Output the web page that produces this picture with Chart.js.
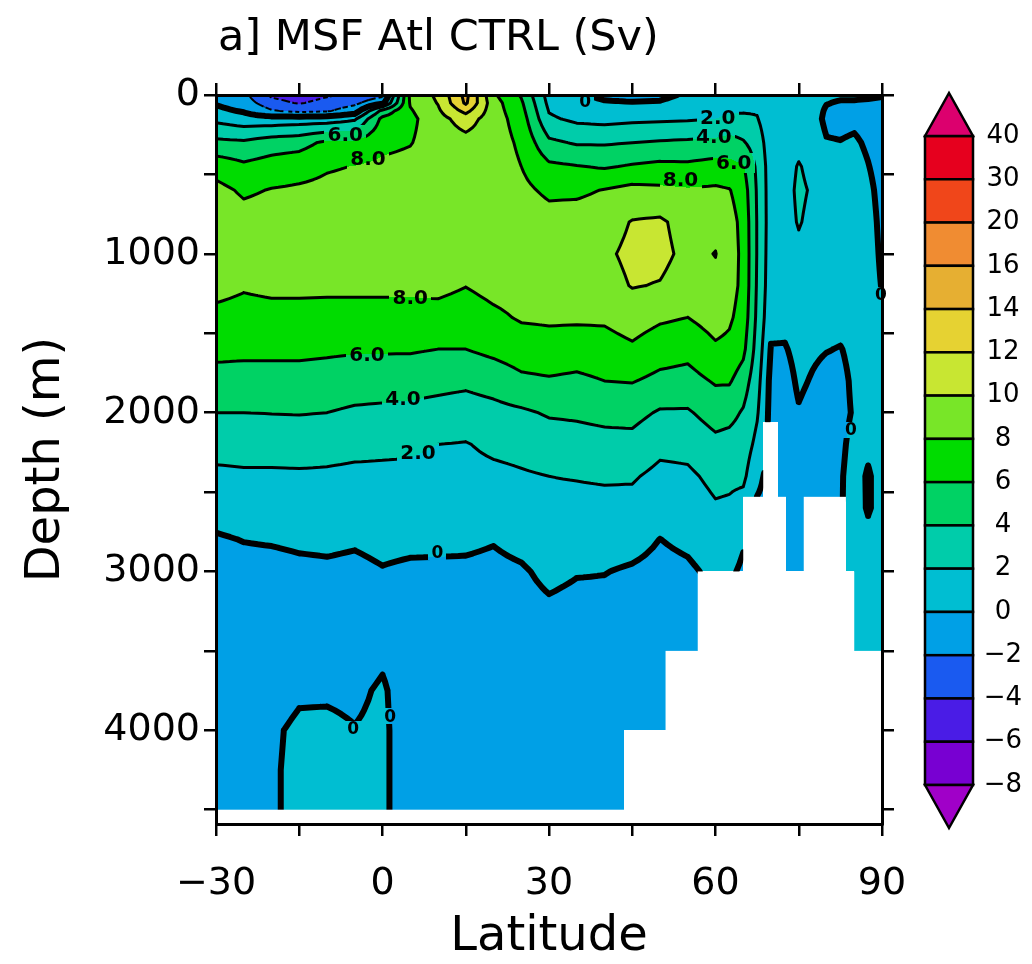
<!DOCTYPE html>
<html lang="en">
<head>
  <meta charset="UTF-8" />
  <title>MSF Atl CTRL</title>
  <script src="https://cdn.jsdelivr.net/npm/chart.js@4.4.1/dist/chart.umd.min.js"></script>
  <style>
    html, body { margin: 0; padding: 0; background: #fff; }
  </style>
</head>
<body>
  <canvas id="msfChart" width="1032" height="964"></canvas>
<script>
  // grid of the streamfunction
  const lats = [-30, -25, -20, -15, -10, -5, 0, 5, 10, 15, 20, 25, 30, 35, 40, 45, 50, 55, 60,
                62.5, 65, 67.5, 70, 72.5, 75, 77.5, 80, 82.5, 85, 87.5, 90];
  const depths = [0, 50, 100, 150, 300, 450, 600, 800, 1000, 1200, 1400, 1600, 1800, 2000, 2200, 2400,
                  2600, 2800, 3000, 3250, 3500, 3750, 4000, 4250, 4500];

  // MSF (Sv), one profile per latitude, values top to bottom at the depths above
  const msf = [
    [-0.6, -0.2, 0.5, 1.5, 4.5, 7.2, 8.6, 9.2, 9.2, 8.6, 7.5, 6.5, 5.3, 4.0, 2.7, 1.6, 0.7, -0.2, -0.6, -0.8, -0.9, -0.9, -0.9, -0.8, -0.6],   // -30
    [-1.5, -1.0, -0.2, 0.9, 4.3, 6.4, 7.7, 8.8, 9.3, 8.2, 7.3, 6.4, 5.3, 4.0, 2.8, 1.7, 0.9, 0.05, -0.6, -0.8, -0.9, -0.9, -0.9, -0.9, -0.8], // -25
    [-4.4, -3.2, -1.8, 0.8, 5.0, 6.9, 8.1, 8.9, 9.3, 8.4, 7.4, 6.4, 5.3, 4.05, 2.8, 1.7, 0.95, 0.15, -0.6, -0.8, -0.9, -0.6, -0.2, -0.15, -0.15], // -20
    [-5.2, -4.2, -2.5, 0.95, 5.3, 7.2, 8.3, 9.0, 9.3, 8.4, 7.4, 6.4, 5.3, 4.1, 2.8, 1.75, 1.0, 0.3, -0.4, -0.7, -0.8, -0.2, 0.25, 0.3, 0.3],  // -15
    [-4.3, -3.2, -2.2, 1.0, 6.4, 7.8, 8.5, 9.1, 9.3, 8.4, 7.3, 6.3, 5.2, 4.0, 2.7, 1.7, 1.0, 0.35, -0.3, -0.7, -0.8, -0.2, 0.3, 0.3, 0.35],   // -10
    [-3.4, -2.4, -1.0, 1.7, 6.4, 8.05, 8.7, 9.1, 9.3, 8.4, 7.3, 6.2, 5.0, 3.7, 2.5, 1.6, 0.9, 0.2, -0.4, -0.7, -0.8, -0.3, 0.05, 0.1, 0.1],   // -5
    [-2.5, -0.5, 4.6, 6.5, 7.5, 8.4, 8.8, 9.1, 9.3, 8.4, 7.3, 6.2, 4.9, 3.6, 2.4, 1.6, 1.0, 0.45, -0.1, -0.6, -0.3, 0.2, 0.3, 0.3, 0.3],      // 0
    [8.4, 8.2, 7.8, 7.5, 7.9, 8.6, 9.0, 9.2, 9.3, 8.4, 7.3, 6.2, 4.8, 3.5, 2.3, 1.6, 1.0, 0.4, -0.3, -0.7, -0.8, -0.9, -0.9, -0.9, -0.9],     // 5
    [10.4, 10.1, 9.7, 9.3, 9.0, 9.1, 9.2, 9.4, 9.4, 8.5, 7.3, 6.0, 4.6, 3.3, 2.0, 1.4, 0.9, 0.35, -0.3, -0.7, -0.8, -0.9, -0.9, -0.9, -0.9],  // 10
    [14.6, 14.3, 12.6, 10.9, 9.3, 9.2, 9.3, 9.5, 9.4, 8.05, 7.0, 6.0, 4.4, 3.1, 1.9, 1.4, 0.9, 0.3, -0.3, -0.7, -0.8, -0.9, -0.9, -0.9, -0.9], // 15
    [8.3, 8.8, 8.9, 9.0, 9.1, 9.2, 9.4, 9.5, 9.4, 8.6, 7.6, 6.5, 4.8, 3.4, 2.4, 1.55, 0.85, 0.1, -0.4, -0.7, -0.8, -0.9, -0.9, -0.9, -0.9],   // 20
    [5.8, 6.3, 6.65, 7.0, 7.6, 8.0, 8.5, 9.2, 9.5, 8.8, 8.2, 7.0, 5.6, 3.7, 2.6, 1.8, 1.1, 0.5, -0.2, -0.6, -0.8, -0.9, -0.9, -0.9, -0.9],    // 25
    [1.2, 1.5, 1.9, 2.3, 4.4, 6.4, 7.6, 8.8, 9.6, 9.0, 8.3, 7.2, 5.8, 4.2, 3.0, 2.0, 1.5, 0.95, 0.4, -0.3, -0.7, -0.8, -0.9, -0.9, -0.8],     // 30
    [0.3, 0.6, 1.1, 1.6, 3.8, 6.1, 7.6, 9.0, 9.5, 9.1, 8.3, 7.0, 5.6, 4.3, 3.2, 2.1, 1.45, 0.75, 0.1, -0.5, -0.7, -0.8, -0.9, -0.9, -0.8],    // 35
    [-0.4, 0.2, 0.8, 1.4, 3.8, 5.8, 8.1, 9.2, 9.7, 9.3, 8.3, 7.2, 6.0, 4.5, 3.4, 2.2, 1.5, 0.75, 0.05, -0.5, -0.7, -0.8, -0.9, -0.9, -0.8],   // 40
    [-0.6, 0.1, 0.85, 1.6, 4.0, 6.2, 8.6, 10.1, 10.4, 10.1, 8.9, 7.7, 6.1, 4.6, 3.4, 2.2, 1.4, 0.6, -0.2, -0.6, -0.8, -0.9, -0.9, -0.9, -0.8], // 45
    [-0.5, 0.2, 0.95, 1.7, 4.2, 6.5, 8.4, 10.3, 10.5, 9.9, 8.3, 6.9, 5.5, 3.8, 2.5, 1.5, 0.8, -0.02, -0.5, -0.7, -0.8, -0.9, -0.9, -0.9, -0.8], // 50
    [0.3, 0.9, 1.35, 1.8, 4.35, 6.4, 8.2, 9.2, 9.5, 9.1, 8.0, 6.6, 5.3, 3.8, 2.6, 1.65, 1.0, 0.35, -0.3, -0.6, -0.8, -0.9, -0.9, -0.9, -0.8],  // 55
    [0.4, 1.0, 1.5, 2.0, 4.5, 6.8, 8.3, 9.5, 10.05, 9.6, 8.8, 7.7, 6.2, 4.8, 3.5, 2.5, 1.8, 1.0, 0.4, 0.2, 0.0, -0.3, -0.5, -0.6, -0.6],     // 60
    [0.5, 1.2, 1.8, 2.4, 4.8, 6.6, 8.1, 8.8, 9.0, 8.8, 8.3, 7.5, 6.2, 4.6, 3.3, 2.4, 1.7, 1.0, 0.3, 0.1, 0.0, -0.3, -0.5, -0.6, -0.6],       // 62.5
    [0.8, 1.3, 1.85, 2.4, 4.2, 6.2, 7.0, 7.4, 7.5, 7.5, 7.2, 6.5, 5.0, 3.8, 3.0, 2.4, 1.2, 0.2, -0.3, -0.5, -0.6, -0.7, -0.7, -0.7, -0.7],   // 65
    [1.2, 1.6, 1.85, 2.1, 3.0, 3.6, 3.8, 3.9, 3.9, 3.8, 3.6, 3.2, 2.7, 2.2, 1.5, 0.5, -0.3, -0.5, -0.6, -0.6, -0.6, -0.6, -0.6, -0.6, -0.6], // 67.5
    [0.6, 0.6, 0.7, 0.8, 0.9, 1.0, 1.0, 1.0, 0.9, 0.8, 0.5, -0.1, -0.5, -0.6, -0.6, -0.6, -0.6, -0.6, -0.6, -0.6, -0.6, -0.6, -0.6, -0.6, -0.6], // 70
    [0.6, 0.6, 0.65, 0.7, 0.8, 0.9, 1.0, 1.0, 0.9, 0.7, 0.4, -0.1, -0.5, -0.6, -0.6, -0.6, -0.6, -0.6, -0.6, -0.6, -0.6, -0.6, -0.6, -0.6, -0.6], // 72.5
    [0.7, 0.7, 0.75, 0.8, 1.2, 2.2, 2.5, 2.2, 1.4, 0.8, 0.6, 0.4, 0.2, -0.1, -0.4, -0.5, -0.6, -0.6, -0.6, -0.6, -0.6, -0.6, -0.6, -0.6, -0.6], // 75
    [0.6, 0.5, 0.55, 0.6, 0.8, 1.2, 1.7, 1.3, 1.0, 0.8, 0.5, 0.2, -0.1, -0.4, -0.5, -0.6, -0.6, -0.6, -0.6, -0.6, -0.6, -0.6, -0.6, -0.6, -0.6], // 77.5
    [0.3, 0.05, -0.15, -0.3, 0.1, 0.5, 0.8, 0.9, 0.9, 0.8, 0.5, 0.05, -0.4, -0.5, -0.6, -0.6, -0.6, -0.6, -0.6, -0.6, -0.6, -0.6, -0.6, -0.6, -0.6], // 80
    [0.2, -0.1, -0.25, -0.4, 0.05, 0.5, 0.8, 0.9, 0.9, 0.8, 0.4, -0.05, -0.3, -0.3, -0.2, -0.1, -0.1, -0.1, -0.1, -0.1, -0.1, -0.1, -0.1, -0.1, -0.1], // 82.5
    [0.2, -0.1, -0.2, -0.3, 0.2, 0.5, 0.7, 0.8, 0.8, 0.7, 0.5, 0.3, 0.2, 0.1, 0.3, 0.4, 0.5, 0.5, 0.5, 0.4, 0.3, 0.3, 0.3, 0.3, 0.3],        // 85
    [0.2, -0.2, -0.35, -0.5, -0.2, 0.05, 0.3, 0.5, 0.6, 0.6, 0.5, 0.5, 0.4, 0.3, 0.2, -0.1, -0.1, 0.3, 0.5, 0.5, 0.4, 0.4, 0.4, 0.4, 0.4],   // 87.5
    [0.1, -0.3, -0.5, -0.7, -0.6, -0.5, -0.4, -0.3, -0.2, -0.05, 0.2, 0.4, 0.4, 0.4, 0.4, 0.4, 0.4, 0.4, 0.4, 0.4, 0.4, 0.4, 0.4, 0.4, 0.4]  // 90
  ];

  // ocean floor (m) starting at each latitude, land below is left white
  const floorLat = [-30, 43.6, 51, 56.8, 65, 68.6, 71.2, 72.7, 75.9, 83.5, 85];
  const floorDepth = [4500, 4000, 3500, 3000, 2530, 2060, 2530, 3000, 2530, 3000, 3500];

  const levels = [-8, -6, -4, -2, 0, 2, 4, 6, 8, 10, 12, 14, 16, 20, 30, 40];
  const fillColors = ['#A000C8', '#7800D2', '#4A1CE6', '#1A5AF0', '#00A0E6', '#00BED2', '#00CCAA',
                      '#00D264', '#00DC00', '#78E628', '#C8E632', '#E6D232', '#E6AF32', '#F08C32',
                      '#F0461A', '#E6001E', '#DC006E'];

  const latTicks = [-30, -15, 0, 15, 30, 45, 60, 75, 90];
  const depthTicks = [0, 500, 1000, 1500, 2000, 2500, 3000, 3500, 4000, 4500];

  // line labels
  const labelText = ['8.0', '6.0', '8.0', '6.0', '4.0', '2.0', '8.0', '6.0', '4.0', '2.0', '0', '0', '0', '0', '0', '0'];
  const labelLat = [-2.6, -6.7, 5, -2.8, 3.7, 6.4, 53.7, 63.3, 59.7, 60.4, 9.9, 36.5, 89.8, 84.4, 1.4, -5.3];
  const labelDepth = [400, 250, 1280, 1635, 1915, 2255, 535, 430, 265, 145, 2880, 40, 1258, 2107, 3912, 3990];

  const titleText = 'a] MSF Atl CTRL (Sv)';

  function minus(v) {
    return v < 0 ? '\u2212' + (-v) : String(v);
  }

  function bracket(arr, v) {
    let i = 0;
    while (i < arr.length - 2 && v > arr[i + 1]) i++;
    return i;
  }
  function frac(arr, i, v) {
    const t = (v - arr[i]) / (arr[i + 1] - arr[i]);
    return t < 0 ? 0 : (t > 1 ? 1 : t);
  }
  function msfAt(lat, dep) {
    const i = bracket(lats, lat), j = bracket(depths, dep);
    const tx = frac(lats, i, lat), ty = frac(depths, j, dep);
    return msf[i][j] * (1 - tx) * (1 - ty) + msf[i + 1][j] * tx * (1 - ty) +
           msf[i + 1][j + 1] * tx * ty + msf[i][j + 1] * (1 - tx) * ty;
  }
  function floorAt(lat) {
    let k = 0;
    for (let m = 0; m < floorLat.length; m++) if (lat >= floorLat[m]) k = m;
    return floorDepth[k];
  }
  function levelIndex(v) {
    let k = 0;
    while (k < levels.length && v >= levels[k]) k++;
    return k;
  }
  function hexRgb(h) {
    return [parseInt(h.slice(1, 3), 16), parseInt(h.slice(3, 5), 16), parseInt(h.slice(5, 7), 16)];
  }

  const contourPlugin = {
    id: 'contour',
    beforeDatasetsDraw(chart) {
      const ctx = chart.ctx;
      const a = chart.chartArea;
      const xs = chart.scales.x, ys = chart.scales.y;
      const L = Math.round(a.left), T = Math.round(a.top);
      const W = Math.round(a.right) - L, H = Math.round(a.bottom) - T;
      const maxDep = depths[depths.length - 1];

      // filled bands
      const img = ctx.createImageData(W, H);
      const rgb = fillColors.map(hexRgb);
      for (let px = 0; px < W; px++) {
        const lat = xs.getValueForPixel(L + px + 0.5);
        const fl = Math.min(floorAt(lat), maxDep);
        for (let py = 0; py < H; py++) {
          const dep = ys.getValueForPixel(T + py + 0.5);
          const o = (py * W + px) * 4;
          const c = dep <= fl ? rgb[levelIndex(msfAt(lat, dep))] : [255, 255, 255];
          img.data[o] = c[0];
          img.data[o + 1] = c[1];
          img.data[o + 2] = c[2];
          img.data[o + 3] = 255;
        }
      }
      ctx.putImageData(img, L, T);

      // contour lines, marching squares on a refined copy of the grid
      const sub = 4;
      const rl = [], rd = [];
      for (let i = 0; i < lats.length - 1; i++)
        for (let s = 0; s < sub; s++) rl.push(lats[i] + (lats[i + 1] - lats[i]) * s / sub);
      rl.push(lats[lats.length - 1]);
      for (let j = 0; j < depths.length - 1; j++)
        for (let s = 0; s < sub; s++) rd.push(depths[j] + (depths[j + 1] - depths[j]) * s / sub);
      rd.push(depths[depths.length - 1]);
      const rv = rl.map(la => rd.map(de => msfAt(la, de)));
      const X = rl.map(la => xs.getPixelForValue(la));
      const Y = rd.map(de => ys.getPixelForValue(de));

      ctx.save();
      ctx.beginPath();
      ctx.rect(a.left, a.top, a.right - a.left, a.bottom - a.top);
      ctx.clip();
      ctx.strokeStyle = '#000';
      ctx.lineJoin = 'round';
      levels.forEach(lev => {
        ctx.beginPath();
        for (let i = 0; i < rl.length - 1; i++) {
          const fl = floorAt((rl[i] + rl[i + 1]) / 2);
          for (let j = 0; j < rd.length - 1; j++) {
            if ((rd[j] + rd[j + 1]) / 2 > fl) continue;
            const P = [[X[i], Y[j]], [X[i + 1], Y[j]], [X[i + 1], Y[j + 1]], [X[i], Y[j + 1]]];
            const V = [rv[i][j], rv[i + 1][j], rv[i + 1][j + 1], rv[i][j + 1]];
            const e = [];
            let n = 0;
            for (let k = 0; k < 4; k++) {
              const f = (k + 1) % 4;
              if ((V[k] >= lev) !== (V[f] >= lev)) {
                const t = (lev - V[k]) / (V[f] - V[k]);
                e.push([P[k][0] + (P[f][0] - P[k][0]) * t, P[k][1] + (P[f][1] - P[k][1]) * t]);
                n++;
              } else {
                e.push(null);
              }
            }
            let segs = [];
            if (n === 2) {
              segs = [e.filter(Boolean)];
            } else if (n === 4) {
              const centre = (V[0] + V[1] + V[2] + V[3]) / 4;
              segs = ((centre >= lev) === (V[0] >= lev)) ? [[e[0], e[1]], [e[2], e[3]]] : [[e[3], e[0]], [e[1], e[2]]];
            }
            segs.forEach(s => {
              ctx.moveTo(s[0][0], s[0][1]);
              ctx.lineTo(s[1][0], s[1][1]);
            });
          }
        }
        // negative values dashed, zero line heavy
        ctx.lineCap = lev < 0 ? 'butt' : 'round';
        ctx.setLineDash(lev < 0 ? [4, 3] : []);
        ctx.lineWidth = lev === 0 ? 6 : (lev < 0 ? 2 : 3);
        ctx.stroke();
      });
      ctx.setLineDash([]);

      // land below the ocean floor
      ctx.fillStyle = '#fff';
      const yBottom = ys.getPixelForValue(ys.max);
      for (let m = 0; m < floorLat.length; m++) {
        const x0 = xs.getPixelForValue(floorLat[m]);
        const x1 = xs.getPixelForValue(m + 1 < floorLat.length ? floorLat[m + 1] : xs.max);
        const y0 = ys.getPixelForValue(Math.min(floorDepth[m], maxDep));
        ctx.fillRect(x0, y0, x1 - x0, yBottom - y0);
      }
      ctx.restore();

      // line labels, cut into the lines
      ctx.save();
      ctx.textAlign = 'center';
      ctx.textBaseline = 'middle';
      ctx.fillStyle = '#000';
      labelText.forEach((txt, k) => {
        const zero = txt === '0';
        ctx.font = zero ? 'bold 17px "DejaVu Sans"' : 'bold 20px "DejaVu Sans"';
        const px = xs.getPixelForValue(labelLat[k]);
        const py = ys.getPixelForValue(labelDepth[k]);
        const w = Math.ceil(ctx.measureText(txt).width) + 6;
        const h = zero ? 16 : 20;
        const dx = Math.max(0, Math.round(px - w / 2) - L);
        const dy = Math.max(0, Math.round(py - h / 2) - T);
        const dw = Math.min(w, W - dx);
        ctx.putImageData(img, L, T, dx, dy, dw, h);
        ctx.fillText(txt, px, py + 1);
      });
      ctx.restore();
    }
  };

  const decorPlugin = {
    id: 'decor',
    afterDraw(chart) {
      const ctx = chart.ctx;
      ctx.save();
      ctx.fillStyle = '#000';
      ctx.font = '43px "DejaVu Sans"';
      ctx.textAlign = 'left';
      ctx.textBaseline = 'alphabetic';
      ctx.fillText(titleText, 218, 50);

      // colour bar
      const bx = 925, bw = 48, top = 136, bottom = 785, tri = 43;
      const nb = levels.length - 1;
      const bh = (bottom - top) / nb;
      ctx.lineWidth = 2.5;
      ctx.strokeStyle = '#000';
      for (let k = 0; k < nb; k++) {
        ctx.fillStyle = fillColors[nb - k];
        ctx.fillRect(bx, top + k * bh, bw, bh);
        ctx.strokeRect(bx, top + k * bh, bw, bh);
      }
      ctx.beginPath();
      ctx.moveTo(bx, top);
      ctx.lineTo(bx + bw / 2, top - tri);
      ctx.lineTo(bx + bw, top);
      ctx.closePath();
      ctx.fillStyle = fillColors[fillColors.length - 1];
      ctx.fill();
      ctx.stroke();
      ctx.beginPath();
      ctx.moveTo(bx, bottom);
      ctx.lineTo(bx + bw / 2, bottom + tri);
      ctx.lineTo(bx + bw, bottom);
      ctx.closePath();
      ctx.fillStyle = fillColors[0];
      ctx.fill();
      ctx.stroke();

      ctx.fillStyle = '#000';
      ctx.font = '26px "DejaVu Sans"';
      ctx.textAlign = 'center';
      ctx.textBaseline = 'middle';
      for (let k = 0; k <= nb; k++) {
        ctx.fillText(minus(levels[nb - k]), 1003, top + k * bh);
      }
      ctx.restore();
    }
  };

  const tickFont = { family: 'DejaVu Sans', size: 38 };
  const axisGrid = { drawOnChartArea: false, color: '#000', lineWidth: 2.5, tickLength: 12 };
  const axisBorder = { color: '#000', width: 3, z: 1 };
  const setLatTicks = s => { s.ticks = latTicks.map(v => ({ value: v })); };
  const setDepthTicks = s => { s.ticks = depthTicks.map(v => ({ value: v })); };

  new Chart(document.getElementById('msfChart'), {
    type: 'scatter',
    data: { datasets: [] },
    options: {
      responsive: false,
      animation: false,
      devicePixelRatio: 1,
      layout: { padding: { left: 0, right: 138, top: 0, bottom: 0 } },
      plugins: { legend: { display: false }, tooltip: { enabled: false } },
      scales: {
        x: {
          type: 'linear', position: 'bottom', min: -30, max: 90,
          ticks: {
            autoSkip: false, maxRotation: 0, padding: 25, color: '#000', font: tickFont,
            callback: v => (v % 30 === 0 ? minus(v) : '')
          },
          afterBuildTicks: setLatTicks,
          grid: axisGrid,
          border: axisBorder,
          title: {
            display: true, text: 'Latitude', color: '#000',
            font: { family: 'DejaVu Sans', size: 48, lineHeight: 1 }, padding: { top: 0, bottom: 2 }
          },
          afterFit: s => { s.height = 140; }
        },
        x2: {
          type: 'linear', axis: 'x', position: 'top', min: -30, max: 90,
          ticks: { autoSkip: false, maxRotation: 0, callback: () => '' },
          afterBuildTicks: setLatTicks,
          grid: axisGrid,
          border: axisBorder,
          afterFit: s => { s.height = 95; }
        },
        y: {
          type: 'linear', position: 'left', reverse: true, min: 0, max: 4590,
          ticks: {
            autoSkip: false, padding: 4, color: '#000', font: tickFont,
            callback: v => (v % 1000 === 0 ? String(v) : '')
          },
          afterBuildTicks: setDepthTicks,
          grid: axisGrid,
          border: axisBorder,
          title: {
            display: true, text: 'Depth (m)', color: '#000',
            font: { family: 'DejaVu Sans', size: 48, lineHeight: 1 }, padding: { top: 23, bottom: 0 }
          },
          afterFit: s => { s.width = 216; }
        },
        y2: {
          type: 'linear', axis: 'y', position: 'right', reverse: true, min: 0, max: 4590,
          ticks: { autoSkip: false, callback: () => '' },
          afterBuildTicks: setDepthTicks,
          grid: axisGrid,
          border: axisBorder,
          afterFit: s => { s.width = 12; }
        }
      }
    },
    plugins: [contourPlugin, decorPlugin]
  });
</script>
</body>
</html>
